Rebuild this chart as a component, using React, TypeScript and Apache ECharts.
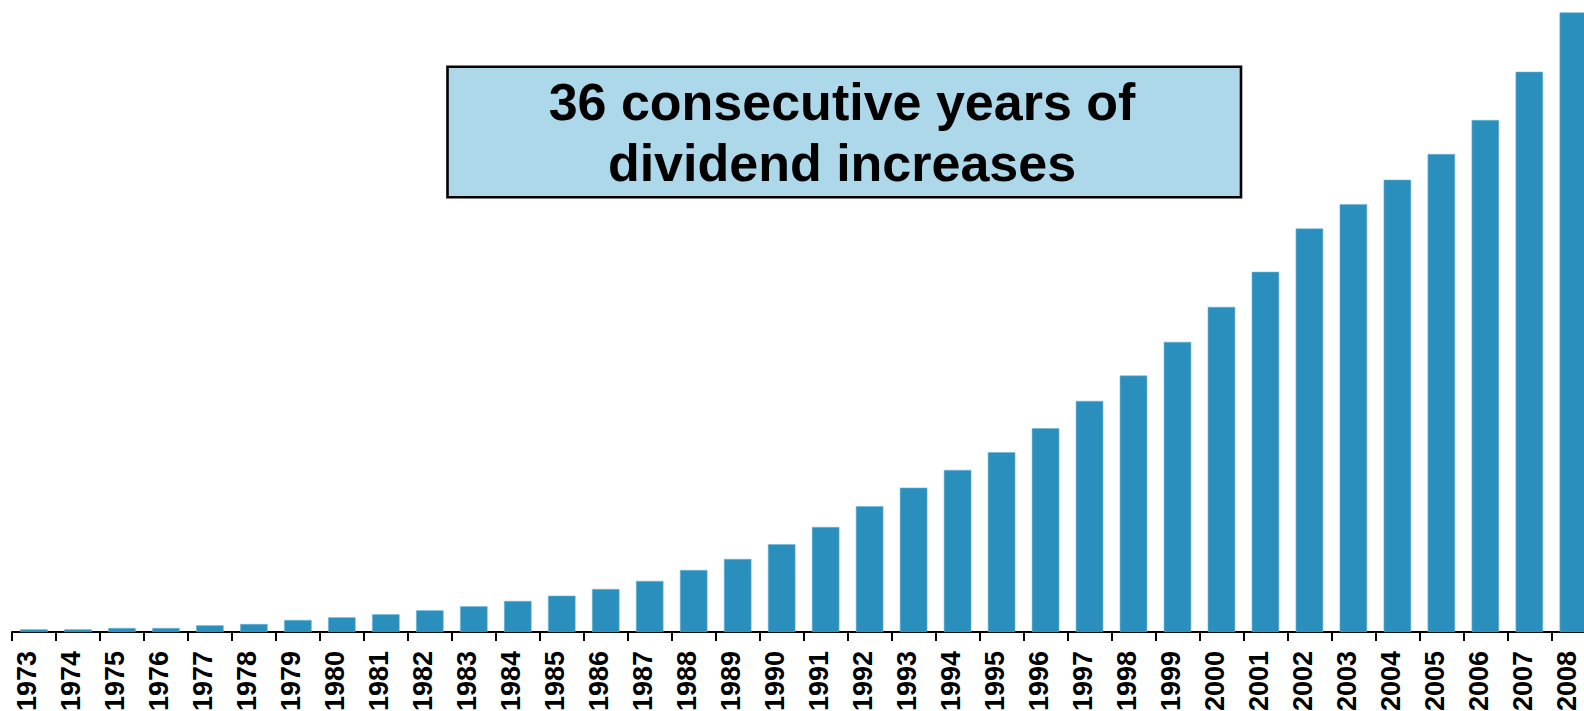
import React, { useEffect, useRef } from "react";
import * as echarts from "echarts";

const years: string[] = [
  "1973", "1974", "1975", "1976", "1977", "1978", "1979", "1980", "1981", "1982",
  "1983", "1984", "1985", "1986", "1987", "1988", "1989", "1990", "1991", "1992",
  "1993", "1994", "1995", "1996", "1997", "1998", "1999", "2000", "2001", "2002",
  "2003", "2004", "2005", "2006", "2007", "2008",
];

// Dividend per share, indexed (2008 = 100)
const dividendIndex: number[] = [
  0.44, 0.44, 0.65, 0.65, 1.08, 1.29, 1.94, 2.37, 2.86, 3.5,
  4.15, 5.01, 5.86, 6.94, 8.24, 10.01, 11.79, 14.16, 16.95, 20.3,
  23.3, 26.16, 29.02, 32.89, 37.3, 41.39, 46.83, 52.48, 58.13, 65.12,
  69.06, 72.99, 77.14, 82.63, 90.42, 100,
];

const calloutLines: string[] = ["36 consecutive years of", "dividend increases"];

export default function App() {
  const ref = useRef<HTMLDivElement>(null);

  useEffect(() => {
    if (!ref.current) return;
    const chart = echarts.init(ref.current, undefined, { renderer: "svg" });
    chart.setOption({
      animation: false,
      backgroundColor: "#ffffff",
      grid: { left: 12, top: 0, width: 1583.3, height: 632, containLabel: false, outerBoundsMode: "none" },
      xAxis: {
        type: "category",
        data: years,
        boundaryGap: true,
        axisLine: { show: true, lineStyle: { color: "#000000", width: 2 } },
        axisTick: { show: true, length: 9, lineStyle: { color: "#000000", width: 2 } },
        axisLabel: {
          rotate: 90,
          margin: 19,
          interval: 0,
          fontFamily: "Liberation Sans, Arial, sans-serif",
          fontSize: 27,
          fontWeight: "bold",
          color: "#000000",
          verticalAlign: "bottom",
          lineHeight: 13,
        },
      },
      yAxis: {
        type: "value",
        min: 0,
        max: 102,
        show: false,
        splitLine: { show: false },
      },
      series: [
        {
          type: "bar",
          data: dividendIndex,
          barWidth: 27.5,
          itemStyle: { color: "#2a8fbc", borderColor: "#6fb3d4", borderWidth: 0.6 },
        },
      ],
      graphic: [
        {
          type: "rect",
          shape: { x: 447.5, y: 66.7, width: 793.5, height: 130.6 },
          style: { fill: "#add8e9", stroke: "#000000", lineWidth: 2.6 },
          z: 10,
        },
        ...calloutLines.map((t, i) => ({
          type: "text",
          x: 842,
          y: 101.5 + i * 61.7,
          z: 11,
          style: {
            text: t,
            fill: "#000000",
            font: "bold 52px 'Liberation Sans', Arial, sans-serif",
            textAlign: "center",
            textVerticalAlign: "middle",
            verticalAlign: "middle",
          },
        })),
      ],
    });
    return () => chart.dispose();
  }, []);

  return (
    <div style={{ position: "fixed", left: 0, top: 0, width: 1584, height: 711, overflow: "hidden", background: "#ffffff" }}>
      <div ref={ref} style={{ position: "absolute", left: 0, top: 0, width: 1600, height: 711 }} />
    </div>
  );
}
